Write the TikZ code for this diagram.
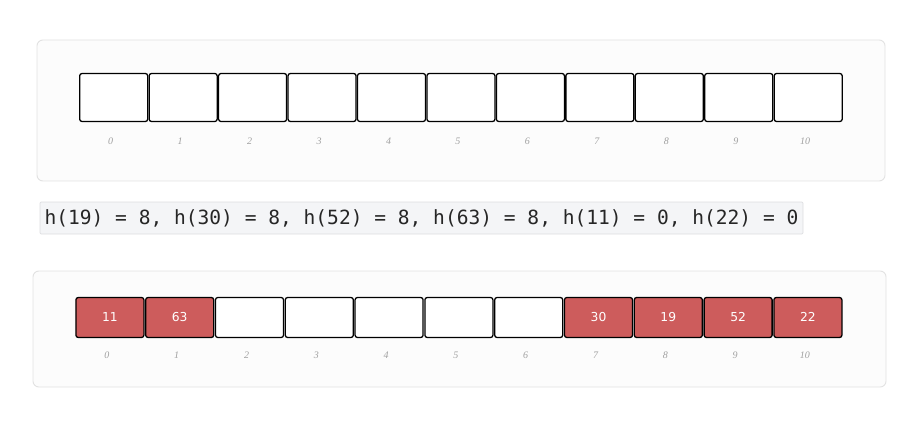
\documentclass[tikz,border=0pt]{standalone}
\usepackage{fontspec}
\usepackage{xcolor}
\usepackage{tikz}
\usetikzlibrary{positioning}
\setmainfont{DejaVu Sans}
\setmonofont{DejaVu Sans Mono}
\newfontfamily\idxfont{Liberation Serif}

\definecolor{cellred}{HTML}{CD5C5C}
\definecolor{panelline}{HTML}{E2E2E2}
\definecolor{panelfill}{HTML}{FCFCFC}
\definecolor{codefill}{HTML}{F4F5F7}
\definecolor{codeline}{HTML}{DCDDE0}
\definecolor{idxgray}{HTML}{A0A0A0}

\tikzset{
  panel/.style={draw=panelline, fill=panelfill, line width=0.8pt, rounded corners=5pt},
  cell/.style={draw=black, line width=1.1pt, rounded corners=2pt, fill=white,
    minimum width=68*0.03cm, inner sep=0pt, text=white,
    text height=7.6pt, text depth=0pt,
    font=\fontsize{10.5}{12}\selectfont},
  topcell/.style={cell, minimum height=48*0.03cm},
  botcell/.style={cell, minimum height=40*0.03cm},
  used/.style={fill=cellred},
  idx/.style={text=idxgray, inner sep=0pt,
    font=\idxfont\fontsize{8.5}{9}\selectfont\itshape},
  codebox/.style={draw=codeline, fill=codefill, line width=0.6pt, rounded corners=1pt,
    minimum width=763*0.03cm, minimum height=32*0.03cm, inner sep=0pt,
    font=\ttfamily\fontsize{16.7}{18}\selectfont, text=black!85}
}

\begin{document}
\begin{tikzpicture}[x=0.03cm, y=-0.03cm]
  \useasboundingbox (0,0) rectangle (921,426);

  % empty table
  \draw[panel] (37,40) rectangle (885,181);
  \foreach \i in {0,...,10} {
    \node[topcell] (top\i) at (113.7+69.45*\i, 97.5) {};
    \node[idx] (topidx\i) at (110.7+69.45*\i, 141) {\i};
  }

  % hash values
  \node[codebox] (hashes) at (421.5,218) {h(19) = 8, h(30) = 8, h(52) = 8, h(63) = 8, h(11) = 0, h(22) = 0};

  % filled table
  \draw[panel] (33,271) rectangle (886,387);
  \foreach \i/\key in {0/11, 1/63, 2/, 3/, 4/, 5/, 6/, 7/30, 8/19, 9/52, 10/22} {
    \ifx\key\empty
      \node[botcell] (bot\i) at (109.9+69.8*\i, 317.5) {};
    \else
      \node[botcell, used] (bot\i) at (109.9+69.8*\i, 317.5) {\key};
    \fi
    \node[idx] (botidx\i) at (106.9+69.8*\i, 355) {\i};
  }
\end{tikzpicture}
\end{document}
